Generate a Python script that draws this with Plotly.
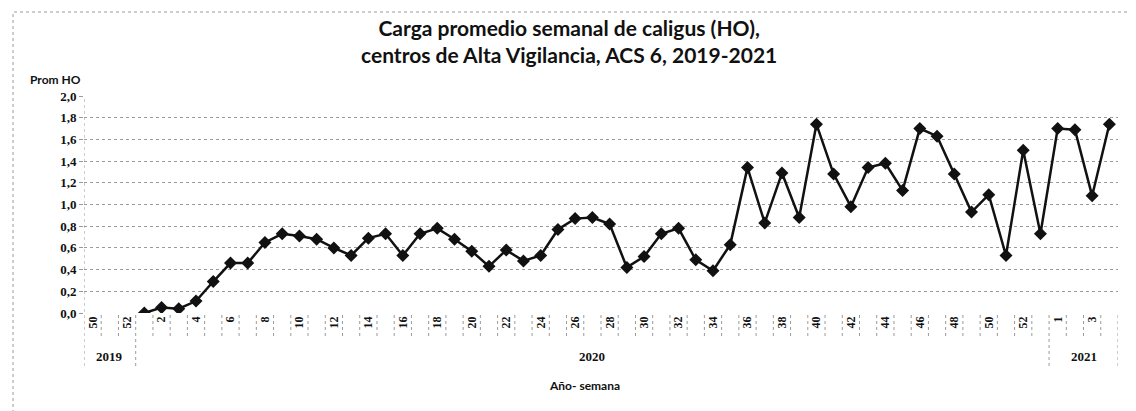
import plotly.graph_objects as go

# ---- data ----
years = ["2019"] * 3 + ["2020"] * 53 + ["2021"] * 4
weeks = [50, 51, 52] + list(range(1, 54)) + [1, 2, 3, 4]
values_2019 = [None, None, None]
values_2020 = [0.00, 0.05, 0.04, 0.11, 0.29, 0.46, 0.46, 0.65, 0.73, 0.71,
               0.68, 0.60, 0.53, 0.69, 0.73, 0.53, 0.73, 0.78, 0.68, 0.57,
               0.43, 0.58, 0.48, 0.53, 0.77, 0.87, 0.88, 0.82, 0.42, 0.52,
               0.73, 0.78, 0.49, 0.39, 0.63, 1.34, 0.83, 1.29, 0.88, 1.74,
               1.28, 0.98, 1.34, 1.38, 1.13, 1.70, 1.63, 1.28, 0.93, 1.09,
               0.53, 1.50, 0.73]
values_2021 = [1.70, 1.69, 1.08, 1.74]
values = values_2019 + values_2020 + values_2021
year_labels = ["2019", "2020", "2021"]

title_text = "Carga promedio semanal de caligus (HO),<br>centros de Alta Vigilancia, ACS 6, 2019-2021"
y_title = "Prom HO"
x_title = "Año- semana"

# ---- layout constants ----
W, H = 1136, 411
ML, MR, MT, MB = 76, 26, 88, 106
PW, PH = W - ML - MR, H - MT - MB

def py(px):  # pixel y (from top) -> paper y
    return (H - MB - px) / PH

def pxp(px):  # pixel x -> paper x
    return (px - ML) / PW

n = len(weeks)
idx = list(range(n))
tickvals = idx[::2]
ticktext = [str(weeks[i]) for i in tickvals]

sans = "Lato"
serif = "Liberation Serif"
grey = "#9a9a9a"

fig = go.Figure()
fig.add_trace(go.Scatter(
    x=idx, y=values, mode="lines+markers",
    line=dict(color="#111111", width=2.5),
    marker=dict(symbol="diamond", size=10, color="#111111"),
    connectgaps=False, hoverinfo="x+y", showlegend=False,
))

shapes = []
group_bounds = set()
start = 0
for yl in year_labels:
    cnt = years.count(yl)
    group_bounds.add(start - 0.5)
    group_bounds.add(start + cnt - 0.5)
    start += cnt
for i in range(n + 1):
    xb = i - 0.5
    y0 = py(358) if xb in group_bounds else py(328)
    y1 = 1 if xb == -0.5 else 0
    shapes.append(dict(type="line", xref="x", yref="paper", x0=xb, x1=xb,
                       y0=y0, y1=y1, line=dict(color=grey, width=1, dash="dot")))
shapes.append(dict(type="rect", xref="paper", yref="paper",
                   x0=pxp(5), x1=pxp(1129), y0=py(406), y1=py(4),
                   line=dict(color=grey, width=1, dash="dot")))

annotations = []
start = 0
for yl in year_labels:
    cnt = years.count(yl)
    annotations.append(dict(x=start + (cnt - 1) / 2, y=py(348), xref="x", yref="paper",
                            text="<b>" + yl + "</b>", showarrow=False,
                            font=dict(family=serif, size=13, color="#111"),
                            xanchor="center", yanchor="middle"))
    start += cnt
annotations.append(dict(x=pxp(576), y=py(377), xref="paper", yref="paper",
                        text="<b>" + x_title + "</b>", showarrow=False,
                        font=dict(family=sans, size=12, color="#111"),
                        xanchor="center", yanchor="middle"))
annotations.append(dict(x=pxp(20), y=py(71), xref="paper", yref="paper",
                        text="<b>" + y_title + "</b>", showarrow=False,
                        font=dict(family=sans, size=12, color="#111"),
                        xanchor="left", yanchor="middle"))
annotations.append(dict(x=pxp(561), y=py(33), xref="paper", yref="paper",
                        text="<b>" + title_text + "</b>", showarrow=False,
                        font=dict(family=sans, size=21, color="#111"),
                        xanchor="center", yanchor="middle"))

fig.update_layout(
    width=W, height=H,
    margin=dict(l=ML, r=MR, t=MT, b=MB),
    paper_bgcolor="white", plot_bgcolor="white",
    separators=", ",
    shapes=shapes,
    annotations=annotations,
    xaxis=dict(range=[-0.5, n - 0.5], tickmode="array", tickvals=tickvals,
               ticktext=ticktext, tickangle=-90, showgrid=False, zeroline=False,
               showline=False, ticks="",
               tickfont=dict(family=serif, size=12, color="#111", weight="bold")),
    yaxis=dict(range=[0, 2], dtick=0.2, tickformat=".1f", showgrid=True,
               gridcolor=grey, griddash="dot", gridwidth=1, zeroline=False,
               showline=False, ticks="outside", ticklen=4, tickcolor=grey,
               tickfont=dict(family=serif, size=13, color="#111", weight="bold")),
)

fig.write_html("out.html")
